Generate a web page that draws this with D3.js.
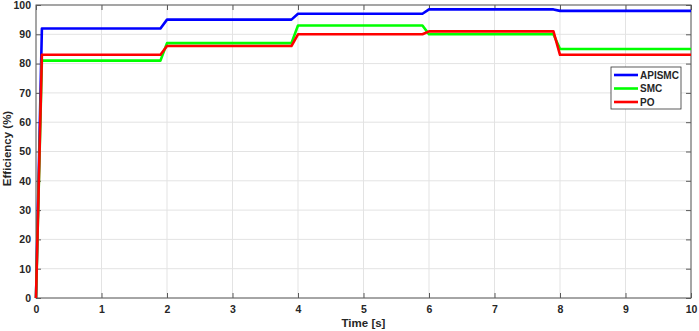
<!DOCTYPE html>
<html>
<head>
<meta charset="utf-8">
<script src="https://cdn.jsdelivr.net/npm/d3@7"></script>
<style>
  body { margin: 0; background: #fff; }
  text { font-family: "Liberation Sans", Arial, sans-serif; font-weight: bold; fill: #262626; }
</style>
</head>
<body>
<div id="chart"></div>
<script>
// breakpoints of the step-like efficiency curves (time in s)
var timeApismc = [0, 0.09, 1.9, 2.0, 3.9, 4.0, 5.9, 6.0, 7.9, 8.0, 10];
var apismc     = [0, 92, 92, 95, 95, 97, 97, 98.5, 98.5, 98, 98];
var timeSmc    = [0, 0.09, 1.9, 2.0, 3.9, 4.0, 5.9, 6.0, 7.9, 8.0, 10];
var smc        = [0, 81, 81, 87, 87, 93, 93, 90, 90, 85, 85];
var timePo     = [0, 0.09, 1.9, 2.0, 3.9, 4.0, 5.9, 6.0, 7.9, 8.0, 10];
var po         = [0, 83, 83, 86, 86, 90, 90, 91, 91, 83, 83];

var seriesNames  = ["APISMC", "SMC", "PO"];
var seriesColors = ["#0000ff", "#00ff00", "#ff0000"];
var xTicks = d3.range(0, 11, 1);
var yTicks = d3.range(0, 101, 10);

var width = 699, height = 331;
var margin = {top: 5, right: 8, bottom: 33, left: 36};

var svg = d3.select("#chart").append("svg")
  .attr("width", width)
  .attr("height", height);

var x = d3.scaleLinear().domain([0, 10]).range([margin.left, width - margin.right]);
var y = d3.scaleLinear().domain([0, 100]).range([height - margin.bottom, margin.top]);

// grid
var grid = svg.append("g");
grid.selectAll(".gx").data(xTicks).enter().append("line")
  .attr("x1", function(d){ return x(d); }).attr("x2", function(d){ return x(d); })
  .attr("y1", y(0)).attr("y2", y(100))
  .style("stroke", "#e3e3e3").style("stroke-width", 1);
grid.selectAll(".gy").data(yTicks).enter().append("line")
  .attr("y1", function(d){ return y(d); }).attr("y2", function(d){ return y(d); })
  .attr("x1", x(0)).attr("x2", x(10))
  .style("stroke", "#e3e3e3").style("stroke-width", 1);

// axes (bottom/left with labels, top/right just ticks)
var axisColor = "#5a5a5a";
function styleAxis(g) {
  g.select(".domain").remove();
  g.selectAll(".tick line").style("stroke", axisColor);
  g.selectAll(".tick text").style("font-size", "10.5px").style("fill", "#262626");
}
svg.append("g").attr("transform", "translate(0," + y(0) + ")")
  .call(d3.axisBottom(x).tickValues(xTicks).tickSize(-5).tickPadding(8))
  .call(styleAxis);
svg.append("g").attr("transform", "translate(" + x(0) + ",0)")
  .call(d3.axisLeft(y).tickValues(yTicks).tickSize(-5).tickPadding(5))
  .call(styleAxis);
svg.append("g").attr("transform", "translate(0," + y(100) + ")")
  .call(d3.axisTop(x).tickValues(xTicks).tickSize(-5).tickFormat(""))
  .call(styleAxis);
svg.append("g").attr("transform", "translate(" + x(10) + ",0)")
  .call(d3.axisRight(y).tickValues(yTicks).tickSize(-5).tickFormat(""))
  .call(styleAxis);

svg.append("rect")
  .attr("x", x(0)).attr("y", y(100))
  .attr("width", x(10) - x(0)).attr("height", y(0) - y(100))
  .style("fill", "none").style("stroke", axisColor).style("stroke-width", 1);

// lines
var line = d3.line()
  .x(function(d){ return x(d[0]); })
  .y(function(d){ return y(d[1]); });

var series = [
  d3.zip(timeApismc, apismc),
  d3.zip(timeSmc, smc),
  d3.zip(timePo, po)
];

svg.append("g").selectAll("path")
  .data(series)
  .enter().append("path")
  .attr("d", line)
  .style("fill", "none")
  .style("stroke", function(d, i){ return seriesColors[i]; })
  .style("stroke-width", 2.6)
  .style("stroke-linejoin", "round");

// axis titles
svg.append("text")
  .attr("x", (x(0) + x(10)) / 2).attr("y", 327)
  .attr("text-anchor", "middle")
  .style("font-size", "11.5px")
  .text("Time [s]");
svg.append("text")
  .attr("transform", "translate(11," + (y(50) - 3) + ") rotate(-90)")
  .attr("text-anchor", "middle")
  .style("font-size", "11.5px")
  .text("Efficiency (%)");

// legend
var legend = svg.append("g").attr("transform", "translate(611,67)");
legend.append("rect")
  .attr("width", 70).attr("height", 42)
  .style("fill", "#fff").style("stroke", "#333").style("stroke-width", 0.8);
var item = legend.selectAll(".item").data(seriesNames).enter().append("g")
  .attr("transform", function(d, i){ return "translate(0," + (8 + i * 13.5) + ")"; });
item.append("line")
  .attr("x1", 3).attr("x2", 27)
  .style("stroke", function(d, i){ return seriesColors[i]; })
  .style("stroke-width", 2.6);
item.append("text")
  .attr("x", 29).attr("dy", "0.35em")
  .style("font-size", "10px")
  .text(function(d){ return d; });
</script>
</body>
</html>
